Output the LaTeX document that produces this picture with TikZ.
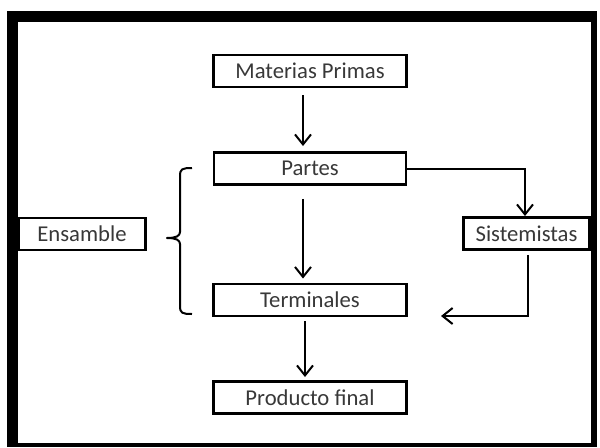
\documentclass[tikz,border=0pt]{standalone}
\usepackage{fontspec}
\setmainfont{Carlito}
\usetikzlibrary{arrows.meta,calc}
\begin{document}
\begin{tikzpicture}[x=0.75pt,y=-0.75pt,
  box/.style={draw=black,line width=2.2pt,minimum height=24pt,inner sep=0pt,
    font=\fontsize{17}{19}\selectfont,text=black!78},
  arr/.style={line width=1.5pt,-{Straight Barb[length=7.5pt,width=12pt,line width=1.5pt]}},
  frame/.style={fill=black}]
\useasboundingbox (0,0) rectangle (600,447);
% outer frame
\fill[frame] (7,11) rectangle (597,22);
\fill[frame] (7,11) rectangle (18,447);
\fill[frame] (591,11) rectangle (597,447);
\fill[frame] (7,443) rectangle (597,447);
% boxes
\node[box,minimum width=145pt] (mp) at (310,71) {Materias Primas};
\node[box,minimum width=144pt] (partes) at (310,168.5) {Partes};
\node[box,minimum width=145pt] (term) at (310,300) {Terminales};
\node[box,minimum width=145pt] (prod) at (310,397.5) {Producto final};
\node[box,minimum width=95pt] (ens) at (82,234) {Ensamble};
\node[box,minimum width=95pt] (sist) at (526.5,233.5) {Sistemistas};
% vertical flow
\draw[arr] ($(mp.south)+(-7,7)$) -- ($(partes.north)+(-7,-5)$);
\draw[arr] ($(partes.south)+(-7,13)$) -- ($(term.north)+(-7,-4)$);
\draw[arr] ($(term.south)+(-5,4)$) -- ($(prod.north)+(-5,-3)$);
% side route through the suppliers
\coordinate (c1) at (525,168.5);
\coordinate (c2) at (528,316);
\coordinate (c3) at (441,316);
\draw[arr] (partes.east) -- (c1) -- (c1 |- sist.north);
\draw[arr] ($(sist.south)+(1.5,4)$) -- (c2) -- (c3);
% brace grouping the assembly stages
\coordinate (btip) at (167,238);
\draw[line width=1.5pt,line join=round] (192,168) .. controls (182,168) and (180,169) .. (180,176)
  -- (180,232) .. controls (180,236) and (176,238) .. (btip)
  .. controls (176,238) and (180,240) .. (180,244)
  -- (180,306) .. controls (180,313) and (182,314) .. (192,314);
\end{tikzpicture}
\end{document}
